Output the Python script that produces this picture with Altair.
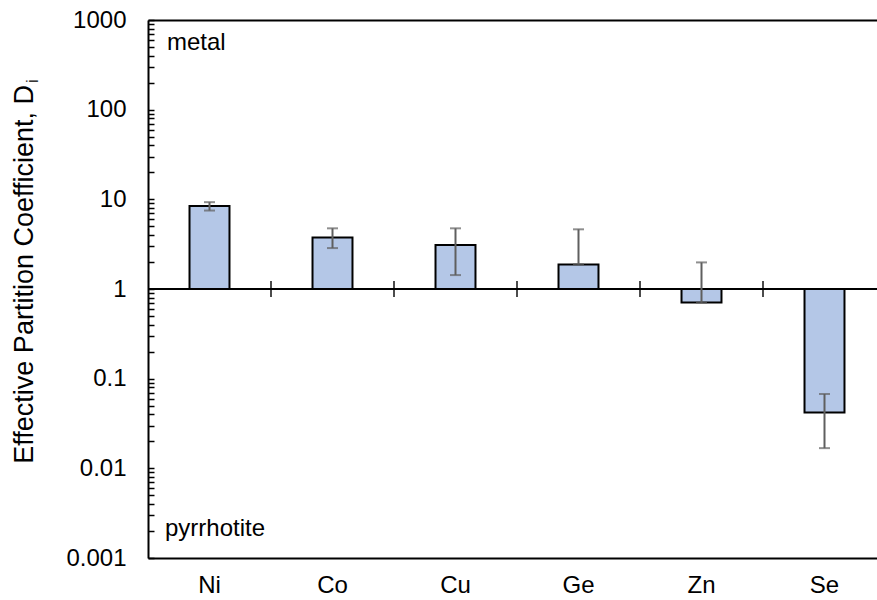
import altair as alt
import pandas as pd

# ---- data ----
elements = ["Ni", "Co", "Cu", "Ge", "Zn", "Se"]
d_values = [8.4, 3.75, 3.1, 1.88, 0.705, 0.042]
err_high = [9.3, 4.75, 4.75, 4.63, 1.98, 0.0675]
err_low = [7.5, 2.86, 1.43, 1.88, 0.705, 0.0168]

y_major = [0.001, 0.01, 0.1, 1, 10, 100, 1000]
y_minor = [m * 10.0 ** e for e in range(-3, 3) for m in range(1, 10)] + [1000]

df = pd.DataFrame({"el": elements, "D": d_values, "hi": err_high, "lo": err_low})
sep_df = pd.DataFrame({"el": elements[1:]})

FONT = "Liberation Sans"
W, H = 729, 538

xscale = alt.Scale(domain=elements, paddingInner=0, paddingOuter=0, range=[0, 738])
yscale = alt.Scale(type="log", domain=[0.001, 1000])


def xn(**kw):
    return alt.X("el:N", sort=elements, scale=xscale, axis=None, **kw)


def yq(field):
    return alt.Y(field, scale=yscale, axis=None)


base = alt.Chart(df)

bars = base.mark_bar(
    width={"band": 0.325}, fill="#b4c7e7", stroke="black", strokeWidth=2
).encode(
    x=alt.X(
        "el:N",
        sort=elements,
        scale=xscale,
        axis=alt.Axis(
            orient="bottom", title=None, ticks=False, labelAngle=0,
            labelFontSize=24, labelFont=FONT, labelColor="black",
            labelPadding=15, domainColor="black", domainWidth=2,
        ),
    ),
    y=alt.Y(
        "D:Q",
        scale=yscale,
        axis=alt.Axis(
            orient="left", values=y_major, format="~g", title=None,
            ticks=False, tickSize=0, grid=False, labelFontSize=24,
            labelFont=FONT, labelColor="black", labelPadding=22,
            domainColor="black", domainWidth=2,
        ),
    ),
    y2=alt.Y2(datum=1),
)

# inner tick marks of the log axis
minor_axis = alt.Chart(pd.DataFrame({"v": y_minor})).mark_point(opacity=0).encode(
    y=alt.Y(
        "v:Q",
        scale=yscale,
        axis=alt.Axis(
            orient="left", values=y_minor, labels=False, domain=False,
            grid=False, title=None, tickSize=6, tickWidth=1.5,
            tickColor="black", offset=-6,
        ),
    ),
)

# top border via a top x axis
top_axis = alt.Chart(pd.DataFrame({"el": elements})).mark_point(opacity=0).encode(
    x=alt.X(
        "el:N", sort=elements, scale=xscale,
        axis=alt.Axis(orient="top", labels=False, ticks=False, title=None,
                      domainColor="black", domainWidth=2),
    ),
)

one_line = alt.Chart(pd.DataFrame({"y": [1]})).mark_rule(
    color="black", strokeWidth=2
).encode(y=yq("y:Q"))

separators = alt.Chart(sep_df).mark_tick(
    orient="vertical", size=16, thickness=2, color="black"
).encode(
    x=xn(bandPosition=0),
    y=alt.Y(datum=1, scale=yscale, axis=None),
)

err_rule = base.mark_rule(color="#5f5f5f", strokeWidth=2).encode(
    x=xn(), y=yq("lo:Q"), y2="hi:Q",
)
cap_hi = base.mark_tick(orient="horizontal", size=11, thickness=2, color="#5f5f5f").encode(
    x=xn(), y=yq("hi:Q"),
)
cap_lo = base.mark_tick(orient="horizontal", size=11, thickness=2, color="#5f5f5f").encode(
    x=xn(), y=yq("lo:Q"),
)

ann = pd.DataFrame({"t": ["metal", "pyrrhotite"], "px": [19, 17], "py": [30, 516]})
labels = alt.Chart(ann).mark_text(
    align="left", baseline="alphabetic", fontSize=24, font=FONT, color="black"
).encode(text="t:N", x=alt.X("px:Q", scale=None, axis=None),
         y=alt.Y("py:Q", scale=None, axis=None))

title_main = alt.Chart(pd.DataFrame({"t": ["Effective Partition Coefficient, D"]})).mark_text(
    align="right", baseline="alphabetic", angle=270, fontSize=27, font=FONT, color="black"
).encode(text="t:N", x=alt.value(-115), y=alt.value(65))
title_sub = alt.Chart(pd.DataFrame({"t": ["i"]})).mark_text(
    align="left", baseline="alphabetic", angle=270, fontSize=17, font=FONT, color="black"
).encode(text="t:N", x=alt.value(-110), y=alt.value(63))

chart = (
    alt.layer(
        bars, minor_axis, top_axis, one_line, separators,
        err_rule, cap_hi, cap_lo, labels, title_main, title_sub,
    )
    .resolve_axis(y="independent", x="independent")
    .properties(
        width=W, height=H,
        autosize=alt.AutoSizeParams(type="none"),
        padding={"left": 148, "top": 20, "right": 0, "bottom": 42},
        background="white",
    )
    .configure_view(stroke=None)
)

chart.save("out.html", embed_options={"renderer": "svg", "actions": False})
